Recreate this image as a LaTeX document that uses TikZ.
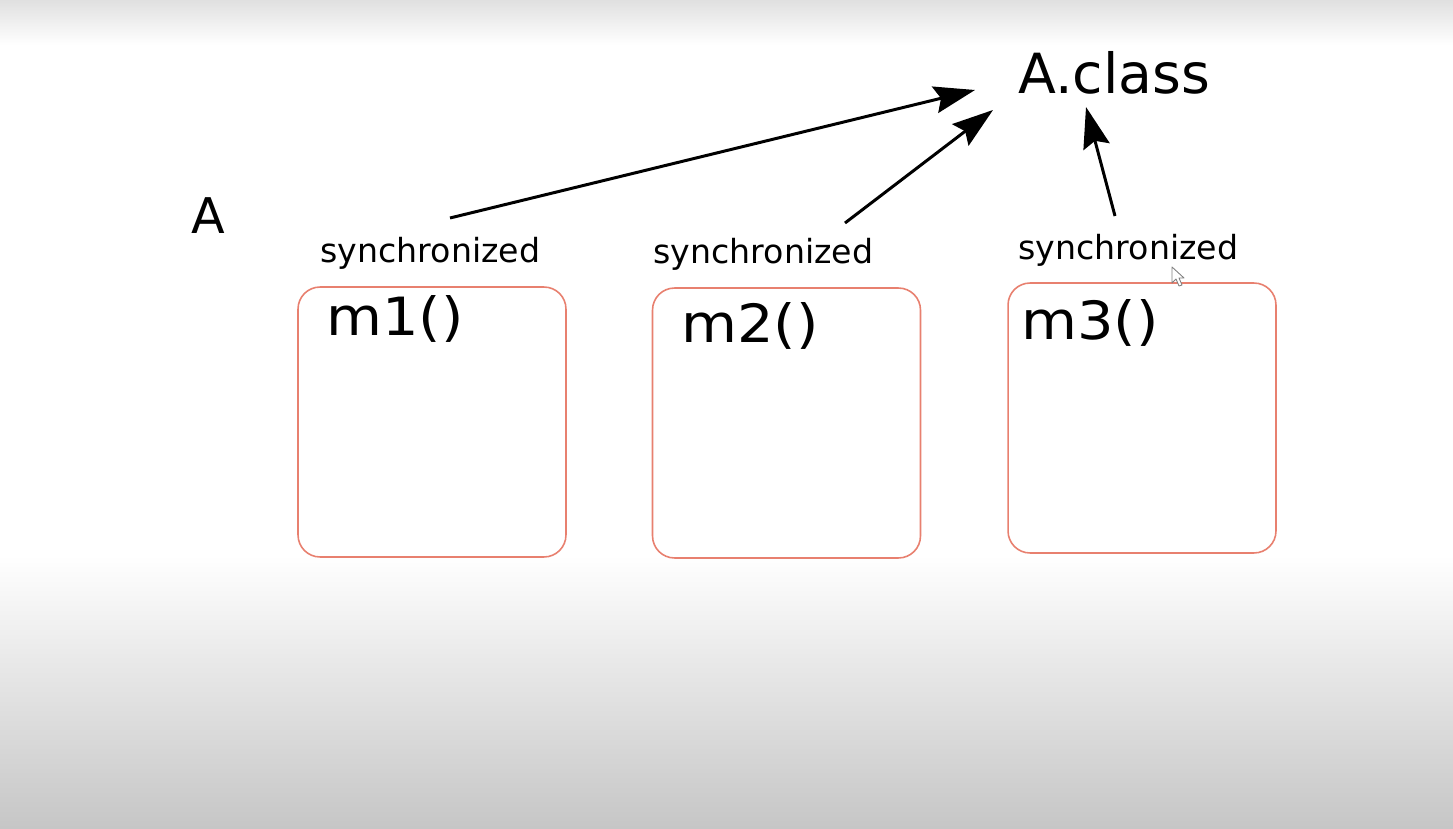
\documentclass[tikz,border=0pt]{standalone}
\usepackage{fontspec}
\setmainfont{DejaVu Sans}
\newfontfamily\widesans[FakeStretch=1.09]{DejaVu Sans}
\usetikzlibrary{arrows.meta}
\definecolor{boxred}{HTML}{E8806F}
\definecolor{bgtop}{HTML}{E0E0E0}
\definecolor{bgbot}{HTML}{C6C6C6}
\begin{document}
\begin{tikzpicture}[x=0.02cm,y=-0.02cm,
  methodbox/.style={draw=boxred, line width=0.9pt, rounded corners=0.44cm,
    minimum width=5.36cm, minimum height=5.4cm, inner sep=0pt},
  methodlabel/.style={anchor=base west, inner sep=0pt, font=\widesans\fontsize{30}{36}\selectfont},
  synclabel/.style={anchor=base, inner sep=0pt, font=\fontsize{18.9}{22}\selectfont},
  bigarrow/.style={line width=1.7pt, -{Stealth[length=0.82cm, width=0.54cm, inset=0.12cm]}}]
\useasboundingbox (0,0) rectangle (1453,828);
% background
\fill[white] (0,0) rectangle (1453,828);
\shade[top color=bgtop, bottom color=white] (0,0) rectangle (1453,45);
\shade[top color=white, bottom color=bgbot] (0,555) rectangle (1453,828);
% class label
\node[anchor=base west, inner sep=0pt, font=\fontsize{28}{34}\selectfont] (A) at (191,233) {A};
\node[anchor=base west, inner sep=0pt, font=\fontsize{31.5}{38}\selectfont] (Aclass) at (1018,93) {A.class};
% boxes
\node[methodbox] (b1) at (432,422) {};
\node[methodbox] (b2) at (786.5,423) {};
\node[methodbox] (b3) at (1142,418) {};
\node[methodlabel] (m1) at (326,335) {m1()};
\node[methodlabel] (m2) at (681,342) {m2()};
\node[methodlabel] (m3) at (1021,339) {m3()};
% synchronized labels
\node[synclabel] (s1) at (430.5,262) {synchronized};
\node[synclabel] (s2) at (763.5,263) {synchronized};
\node[synclabel] (s3) at (1128.5,259) {synchronized};
% arrow ends
\coordinate (a1) at (450,218);
\coordinate (t1) at (975,90);
\coordinate (a2) at (845,223);
\coordinate (t2) at (993,110);
\coordinate (a3) at (1115,216);
\coordinate (t3) at (1086,107);
\draw[bigarrow] (a1) -- (t1);
\draw[bigarrow] (a2) -- (t2);
\draw[bigarrow] (a3) -- (t3);
% mouse cursor
\draw[gray, fill=white, line width=0.5pt, line join=round]
  (1172,267) -- (1172,283) -- (1176,279) -- (1179,286) -- (1182,285) -- (1179,278) -- (1184,278) -- cycle;
\end{tikzpicture}
\end{document}
